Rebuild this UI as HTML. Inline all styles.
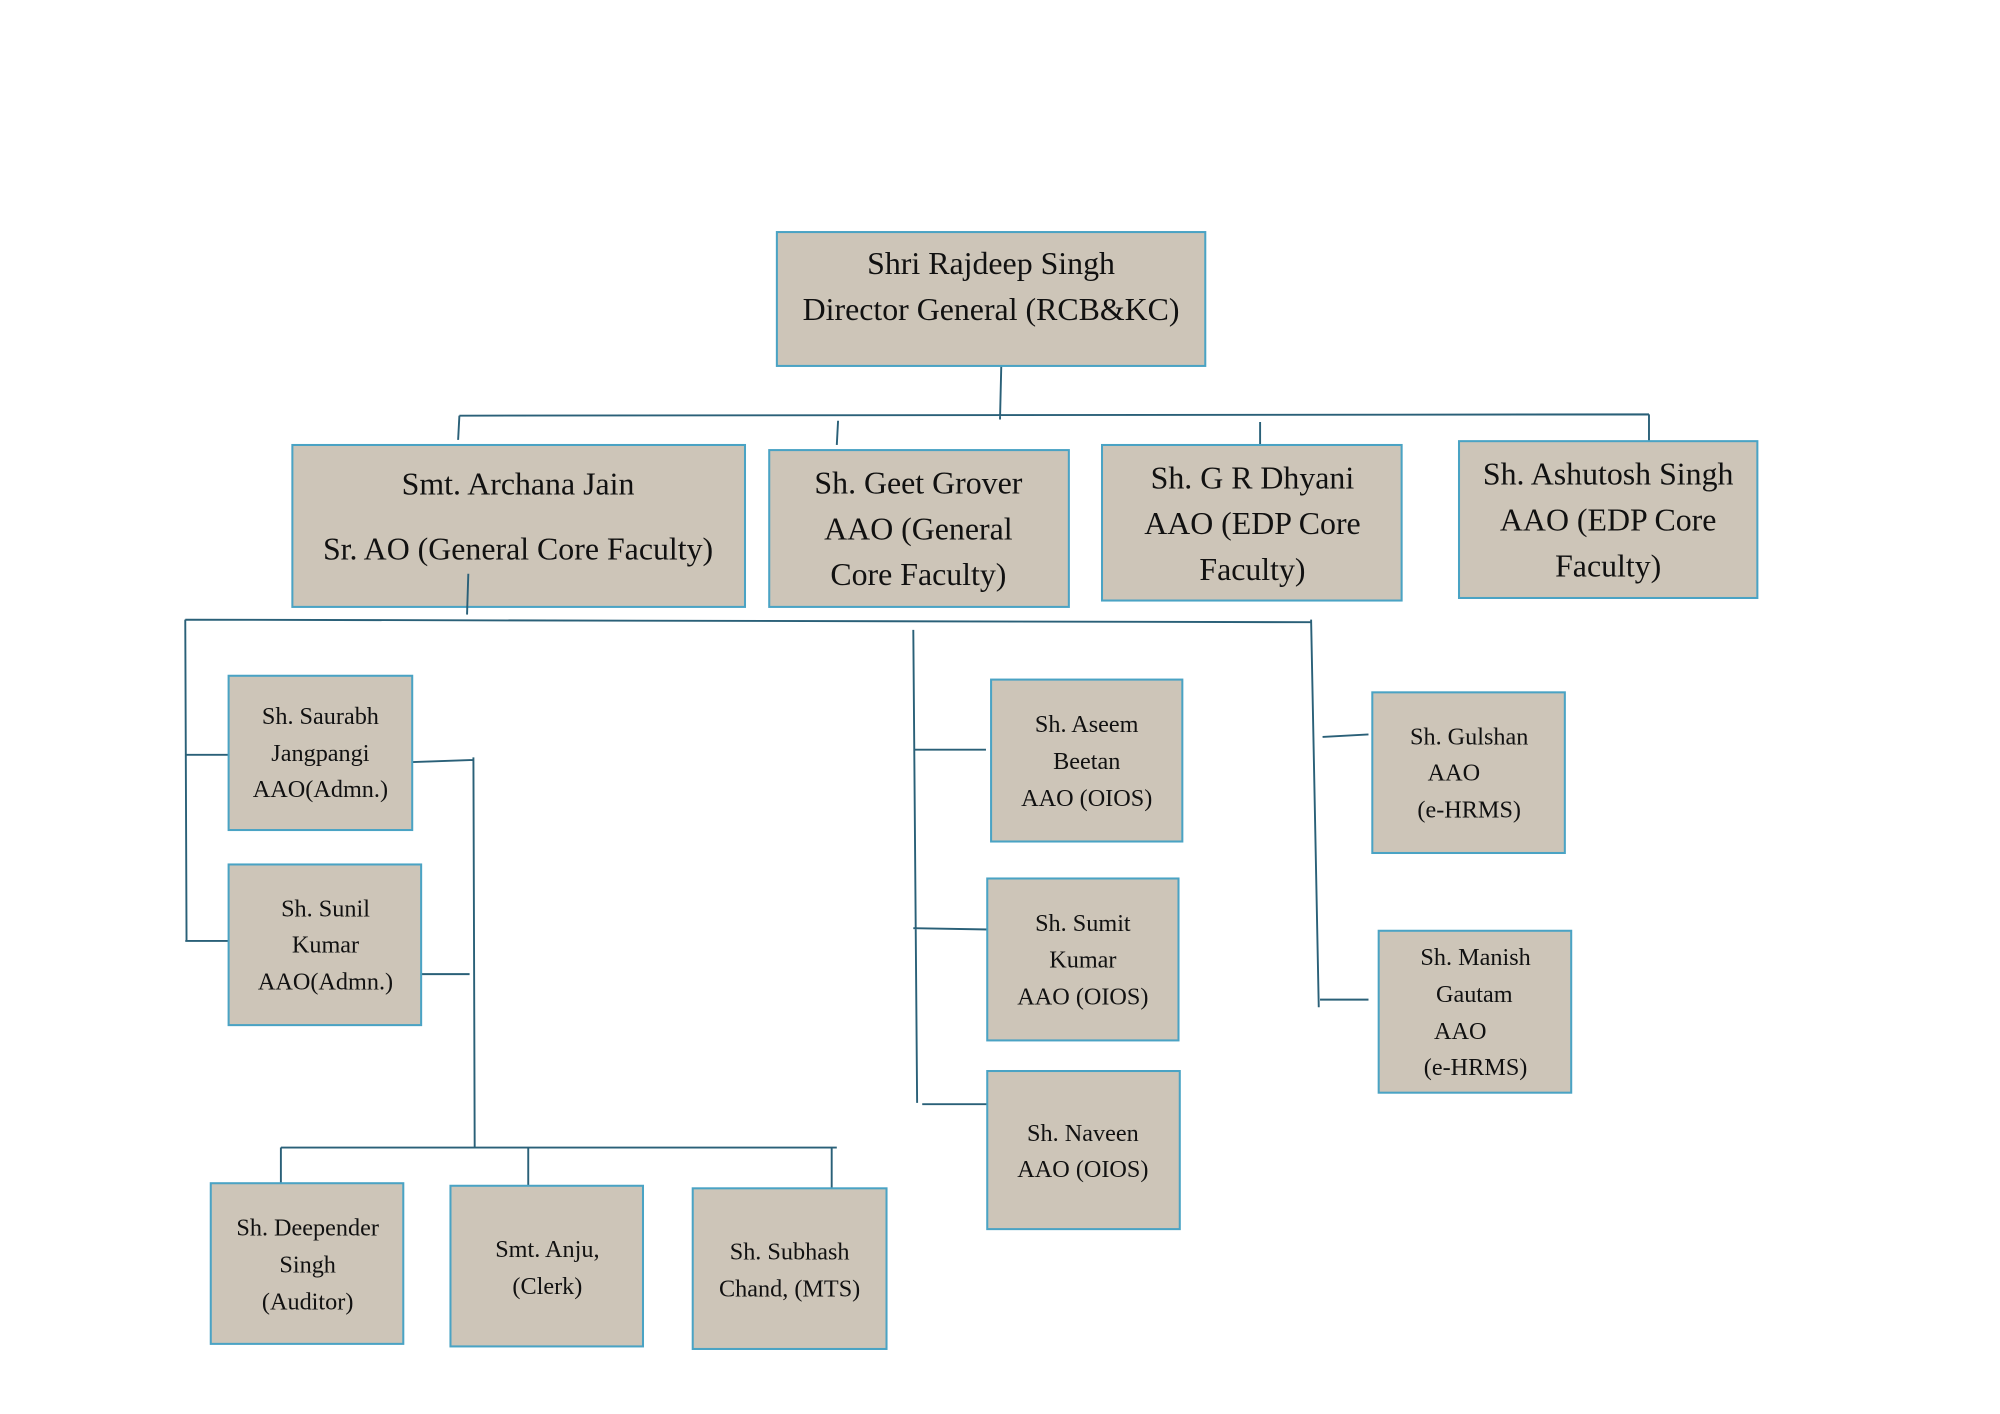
<!DOCTYPE html>
<html><head><meta charset="utf-8"><style>
html,body{margin:0;padding:0;background:#fff;}
svg{display:block;}
text{font-family:"Liberation Serif","DejaVu Serif",serif;fill:#111;text-anchor:middle;}
.b{fill:#cdc5b8;stroke:#4aa3c4;stroke-width:1.6;}
.l{stroke:#2a6078;stroke-width:1.5;fill:none;}
</style></head><body>
<svg width="2000" height="1414" viewBox="0 0 1568 1109" xmlns="http://www.w3.org/2000/svg">
<rect width="1568" height="1109" fill="#fff"/>
<!-- lines -->
<path class="l" d="M785 287 L784 329 M360 326 L1293 325 M360 326 L359 345 M657 330 L656 349 M988 331 L988 349 M1293 325 L1293 346
M145 486 L1028 488 M145 486 L146 738 M145 592 L179 592 M145 738 L179 738
M315 598 L371 596 M371 594 L372 900 M330 764 L368 764 M220 900 L656 900 M220 900 L220 928 M414 900 L414 930 M652 900 L652 932
M716 494 L719 865 M716 588 L773 588 M716 728 L775 729 M723 866 L775 866
M1028 486 L1034 790 M1037 578 L1073 576 M1035 784 L1073 784"/>
<!-- boxes -->
<rect class="b" x="609" y="182" width="336" height="105"/>
<text font-size="25"><tspan x="777" y="215">Shri Rajdeep Singh</tspan><tspan x="777" y="251">Director General (RCB&amp;KC)</tspan></text>

<rect class="b" x="229" y="349" width="355" height="127"/>
<text font-size="25"><tspan x="406" y="388">Smt. Archana Jain</tspan><tspan x="406" y="439">Sr. AO (General Core Faculty)</tspan></text>
<path class="l" d="M367 450 L366 482"/>

<rect class="b" x="603" y="353" width="235" height="123"/>
<text font-size="25"><tspan x="720" y="387">Sh. Geet Grover</tspan><tspan x="720" y="423">AAO (General</tspan><tspan x="720" y="459">Core Faculty)</tspan></text>

<rect class="b" x="864" y="349" width="235" height="122"/>
<text font-size="25"><tspan x="982" y="383">Sh. G R Dhyani</tspan><tspan x="982" y="419">AAO (EDP Core</tspan><tspan x="982" y="455">Faculty)</tspan></text>

<rect class="b" x="1144" y="346" width="234" height="123"/>
<text font-size="25"><tspan x="1261" y="380">Sh. Ashutosh Singh</tspan><tspan x="1261" y="416">AAO (EDP Core</tspan><tspan x="1261" y="452">Faculty)</tspan></text>

<rect class="b" x="179" y="530" width="144" height="121"/>
<text font-size="19"><tspan x="251" y="568">Sh. Saurabh</tspan><tspan x="251" y="597">Jangpangi</tspan><tspan x="251" y="625">AAO(Admn.)</tspan></text>

<rect class="b" x="179" y="678" width="151" height="126"/>
<text font-size="19"><tspan x="255" y="719">Sh. Sunil</tspan><tspan x="255" y="747">Kumar</tspan><tspan x="255" y="776">AAO(Admn.)</tspan></text>

<rect class="b" x="165" y="928" width="151" height="126"/>
<text font-size="19"><tspan x="241" y="969">Sh. Deepender</tspan><tspan x="241" y="998">Singh</tspan><tspan x="241" y="1027">(Auditor)</tspan></text>

<rect class="b" x="353" y="930" width="151" height="126"/>
<text font-size="19"><tspan x="429" y="986">Smt. Anju,</tspan><tspan x="429" y="1015">(Clerk)</tspan></text>

<rect class="b" x="543" y="932" width="152" height="126"/>
<text font-size="19"><tspan x="619" y="988">Sh. Subhash</tspan><tspan x="619" y="1017">Chand, (MTS)</tspan></text>

<rect class="b" x="777" y="533" width="150" height="127"/>
<text font-size="19"><tspan x="852" y="574">Sh. Aseem</tspan><tspan x="852" y="603">Beetan</tspan><tspan x="852" y="632">AAO (OIOS)</tspan></text>

<rect class="b" x="774" y="689" width="150" height="127"/>
<text font-size="19"><tspan x="849" y="730">Sh. Sumit</tspan><tspan x="849" y="759">Kumar</tspan><tspan x="849" y="788">AAO (OIOS)</tspan></text>

<rect class="b" x="774" y="840" width="151" height="124"/>
<text font-size="19"><tspan x="849" y="895">Sh. Naveen</tspan><tspan x="849" y="923">AAO (OIOS)</tspan></text>

<rect class="b" x="1076" y="543" width="151" height="126"/>
<text font-size="19"><tspan x="1152" y="584">Sh. Gulshan</tspan><tspan x="1140" y="612">AAO</tspan><tspan x="1152" y="641">(e-HRMS)</tspan></text>

<rect class="b" x="1081" y="730" width="151" height="127"/>
<text font-size="19"><tspan x="1157" y="757">Sh. Manish</tspan><tspan x="1156" y="786">Gautam</tspan><tspan x="1145" y="815">AAO</tspan><tspan x="1157" y="843">(e-HRMS)</tspan></text>
</svg>
</body></html>
